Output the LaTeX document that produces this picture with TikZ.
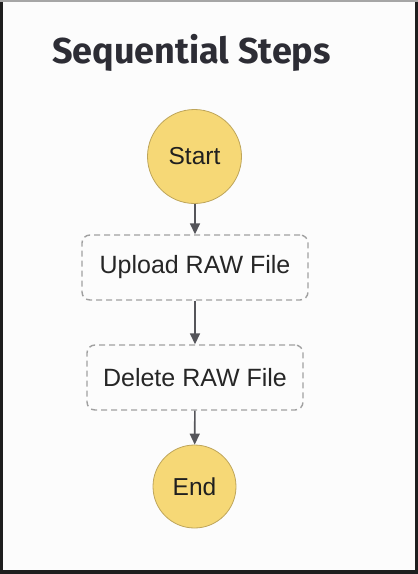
\documentclass[tikz,border=0pt]{standalone}
\usepackage{fontspec}
\setmainfont{Liberation Sans}
\newfontfamily\titlefont[Ligatures=NoCommon]{Fira Sans}
\usetikzlibrary{arrows.meta}
\definecolor{stateyellow}{RGB}{246,216,118}
\definecolor{stateedge}{RGB}{190,165,90}
\definecolor{dashgray}{RGB}{160,160,160}
\definecolor{arrowgray}{RGB}{85,85,90}
\definecolor{titlecol}{RGB}{45,45,53}
\definecolor{framedark}{RGB}{30,30,30}
\tikzset{
  terminal/.style={circle, fill=stateyellow, draw=stateedge, line width=0.8pt, inner sep=0pt, text=black!88, font=\fontsize{24.5}{28}\selectfont},
  taskbox/.style={rectangle, rounded corners=8pt, draw=dashgray, line width=1.4pt, dash pattern=on 6pt off 4pt, minimum width=226pt, minimum height=65pt, text=black!85, font=\fontsize{25}{28}\selectfont},
  flow/.style={draw=arrowgray, line width=1.6pt, -{Triangle[length=11pt,width=10pt]}}
}
\begin{document}
\begin{tikzpicture}[x=1pt,y=-1pt]
\useasboundingbox (0,0) rectangle (418,574);
\fill[framedark] (0,0) rectangle (418,574);
\fill[gray!70] (0,0) rectangle (418,1.5);
\fill[white!99!black] (3,1.5) rectangle (415,570);
\node[anchor=base west, inner sep=0pt, text=titlecol, font=\titlefont\bfseries\fontsize{36}{42}\selectfont] (title) at (52,63) {Sequential Steps};
\node[terminal, minimum size=94pt] (start) at (194.5,156.5) {Start};
\node[taskbox] (upload) at (195,267.5) {Upload RAW File};
\node[taskbox, minimum width=216pt] (delete) at (195,377.5) {Delete RAW File};
\node[terminal, minimum size=83pt] (end) at (194.5,486.5) {End};
\draw[flow] (start.south -| upload.north) -- (upload.north);
\draw[flow] (upload) -- (delete);
\draw[flow] (delete) -- (end);
\end{tikzpicture}
\end{document}
